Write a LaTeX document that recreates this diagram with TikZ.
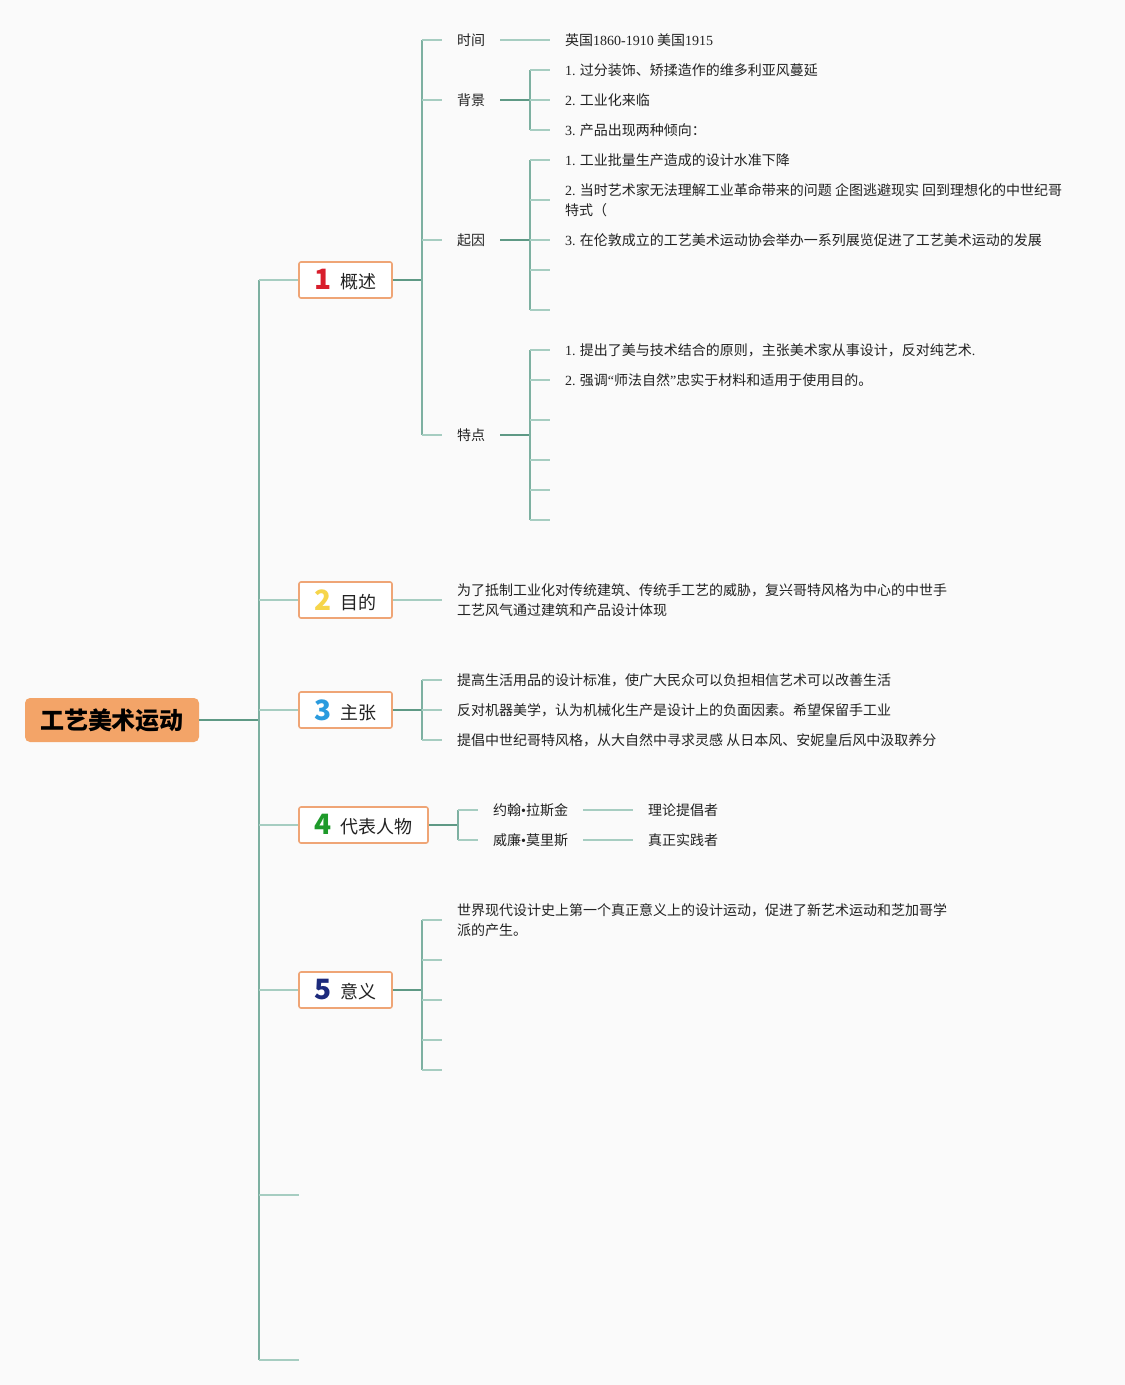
\documentclass[tikz,border=0pt]{standalone}
\usepackage{fontspec}
\setmainfont{Noto Sans CJK SC}
\newfontfamily\serifnum{Liberation Serif}
\newcommand\Lnum[1]{{\serifnum #1}}
\definecolor{bgc}{HTML}{FAFAFA}
\definecolor{rootfill}{HTML}{F3A468}
\definecolor{boxline}{HTML}{EFA576}
\definecolor{lnkdark}{HTML}{5E9985}
\definecolor{lnkmid}{HTML}{7DB0A1}
\definecolor{lnklight}{HTML}{A6CDC1}
\definecolor{txtc}{HTML}{222222}
\definecolor{n1}{HTML}{D81E2C}
\definecolor{n2}{HTML}{F6D54A}
\definecolor{n3}{HTML}{2A9BDE}
\definecolor{n4}{HTML}{1E9A2A}
\definecolor{n5}{HTML}{1C2A7C}
\tikzset{
  stub/.style={draw=lnkdark, line width=1.6pt},
  vline/.style={draw=lnkmid, line width=1.5pt},
  br/.style={draw=lnklight, line width=1.5pt},
  txt/.style={anchor=west, inner sep=0pt, align=left, text=txtc, font=\fontsize{14}{20}\selectfont},
  mainbox/.style={draw=boxline, line width=1.6pt, fill=white, rounded corners=2pt, minimum height=36pt, inner sep=0pt, text=txtc, font=\fontsize{18}{22}\selectfont},
  rootbox/.style={fill=rootfill, rounded corners=5pt, minimum width=174pt, minimum height=44pt, inner sep=0pt, text=black, font=\fontsize{24}{28}\selectfont\bfseries},
}
\newcommand\bignum[2]{{\color{#1}\fontsize{28}{28}\selectfont\bfseries\raisebox{-1pt}{#2}}}
\begin{document}
\begin{tikzpicture}[x=1pt,y=-1pt]
\fill[bgc] (0,0) rectangle (1125,1385);
\useasboundingbox (0,0) rectangle (1125,1385);

% root
\node[rootbox] (root) at (112,720) {工艺美术运动};
\coordinate (sp) at (259,720);
\coordinate (spT) at (259,280);
\coordinate (spB) at (259,1360);
\draw[stub] (root.east) -- (sp);
\draw[vline] (spT) -- (spB);

% main boxes
\node[mainbox, minimum width=93pt] (m1) at (345.5,280) {\bignum{n1}{1}\hspace{9pt}概述};
\node[mainbox, minimum width=93pt] (m2) at (345.5,600) {\bignum{n2}{2}\hspace{9pt}目的};
\node[mainbox, minimum width=93pt] (m3) at (345.5,710) {\bignum{n3}{3}\hspace{9pt}主张};
\node[mainbox, minimum width=129pt] (m4) at (363.5,825) {\bignum{n4}{4}\hspace{9pt}代表人物};
\node[mainbox, minimum width=93pt] (m5) at (345.5,990) {\bignum{n5}{5}\hspace{9pt}意义};
\coordinate (e6) at (299,1195);
\coordinate (e7) at (299,1360);
\foreach \n in {m1,m2,m3,m4,m5} {\draw[br] (\n.west -| sp) -- (\n.west);}
\draw[br] (e6 -| sp) -- (e6);
\draw[br] (e7 -| sp) -- (e7);

% ---------- 1 概述 ----------
\coordinate (j1) at (422,280);
\draw[stub] (m1.east) -- (j1);
\draw[vline] (422,40) -- (422,435);
\node[txt] (time) at (457,40) {时间};
\node[txt] (bgd) at (457,100) {背景};
\node[txt] (cause) at (457,240) {起因};
\node[txt] (feat) at (457,435) {特点};
\foreach \n in {time,bgd,cause,feat} {\draw[br] (\n.west -| j1) -- ([xshift=-15pt]\n.west);}

% 时间
\node[txt] (timev) at (565,40) {英国\Lnum{1860-1910} 美国\Lnum{1915}};
\draw[br] ([xshift=15pt]time.east) -- ([xshift=-15pt]timev.west);

% 背景
\coordinate (jb) at (530,100);
\draw[stub] ([xshift=15pt]bgd.east) -- (jb);
\draw[vline] (530,70) -- (530,130);
\node[txt] (b1) at (565,70) {\Lnum{1.} 过分装饰、矫揉造作的维多利亚风蔓延};
\node[txt] (b2) at (565,100) {\Lnum{2.} 工业化来临};
\node[txt] (b3) at (565,130) {\Lnum{3.} 产品出现两种倾向：};
\foreach \n in {b1,b2,b3} {\draw[br] (\n.west -| jb) -- ([xshift=-15pt]\n.west);}

% 起因
\coordinate (jc) at (530,240);
\draw[stub] ([xshift=15pt]cause.east) -- (jc);
\draw[vline] (530,160) -- (530,310);
\node[txt] (c1) at (565,160) {\Lnum{1.} 工业批量生产造成的设计水准下降};
\node[txt] (c2) at (565,200) {\Lnum{2.} 当时艺术家无法理解工业革命带来的问题 企图逃避现实 回到理想化的中世纪哥\\特式（};
\node[txt] (c3) at (565,240) {\Lnum{3.} 在伦敦成立的工艺美术运动协会举办一系列展览促进了工艺美术运动的发展};
\coordinate (c4) at (565,270);
\coordinate (c5) at (565,310);
\foreach \n in {c1,c2,c3} {\draw[br] (\n.west -| jc) -- ([xshift=-15pt]\n.west);}
\foreach \n in {c4,c5} {\draw[br] (\n -| jc) -- ([xshift=-15pt]\n);}

% 特点
\coordinate (jf) at (530,435);
\draw[stub] ([xshift=15pt]feat.east) -- (jf);
\draw[vline] (530,350) -- (530,520);
\node[txt] (f1) at (565,350) {\Lnum{1.} 提出了美与技术结合的原则，主张美术家从事设计，反对纯艺术\Lnum{.}};
\node[txt] (f2) at (565,380) {\Lnum{2.} 强调\Lnum{“}师法自然\Lnum{”}忠实于材料和适用于使用目的。};
\coordinate (f3) at (565,420);
\coordinate (f4) at (565,460);
\coordinate (f5) at (565,490);
\coordinate (f6) at (565,520);
\foreach \n in {f1,f2} {\draw[br] (\n.west -| jf) -- ([xshift=-15pt]\n.west);}
\foreach \n in {f3,f4,f5,f6} {\draw[br] (\n -| jf) -- ([xshift=-15pt]\n);}

% ---------- 2 目的 ----------
\node[txt] (p1) at (457,600) {为了抵制工业化对传统建筑、传统手工艺的威胁，复兴哥特风格为中心的中世手\\工艺风气通过建筑和产品设计体现};
\draw[br] (m2.east) -- ([xshift=-15pt]p1.west);

% ---------- 3 主张 ----------
\coordinate (j3) at (422,710);
\draw[stub] (m3.east) -- (j3);
\draw[vline] (422,680) -- (422,740);
\node[txt] (a1) at (457,680) {提高生活用品的设计标准，使广大民众可以负担相信艺术可以改善生活};
\node[txt] (a2) at (457,710) {反对机器美学，认为机械化生产是设计上的负面因素。希望保留手工业};
\node[txt] (a3) at (457,740) {提倡中世纪哥特风格，从大自然中寻求灵感 从日本风、安妮皇后风中汲取养分};
\foreach \n in {a1,a2,a3} {\draw[br] (\n.west -| j3) -- ([xshift=-15pt]\n.west);}

% ---------- 4 代表人物 ----------
\coordinate (j4) at (458,825);
\draw[stub] (m4.east) -- (j4);
\draw[vline] (458,810) -- (458,840);
\node[txt] (r1) at (493,810) {约翰\Lnum{•}拉斯金};
\node[txt] (r2) at (493,840) {威廉\Lnum{•}莫里斯};
\node[txt] (r1v) at (648,810) {理论提倡者};
\node[txt] (r2v) at (648,840) {真正实践者};
\foreach \n in {r1,r2} {\draw[br] (\n.west -| j4) -- ([xshift=-15pt]\n.west);}
\draw[br] ([xshift=15pt]r1.east) -- ([xshift=-15pt]r1v.west);
\draw[br] ([xshift=15pt]r2.east) -- ([xshift=-15pt]r2v.west);

% ---------- 5 意义 ----------
\coordinate (j5) at (422,990);
\draw[stub] (m5.east) -- (j5);
\draw[vline] (422,920) -- (422,1070);
\node[txt] (s1) at (457,920) {世界现代设计史上第一个真正意义上的设计运动，促进了新艺术运动和芝加哥学\\派的产生。};
\coordinate (s2) at (457,960);
\coordinate (s3) at (457,1000);
\coordinate (s4) at (457,1040);
\coordinate (s5) at (457,1070);
\draw[br] (s1.west -| j5) -- ([xshift=-15pt]s1.west);
\foreach \n in {s2,s3,s4,s5} {\draw[br] (\n -| j5) -- ([xshift=-15pt]\n);}
\end{tikzpicture}
\end{document}
